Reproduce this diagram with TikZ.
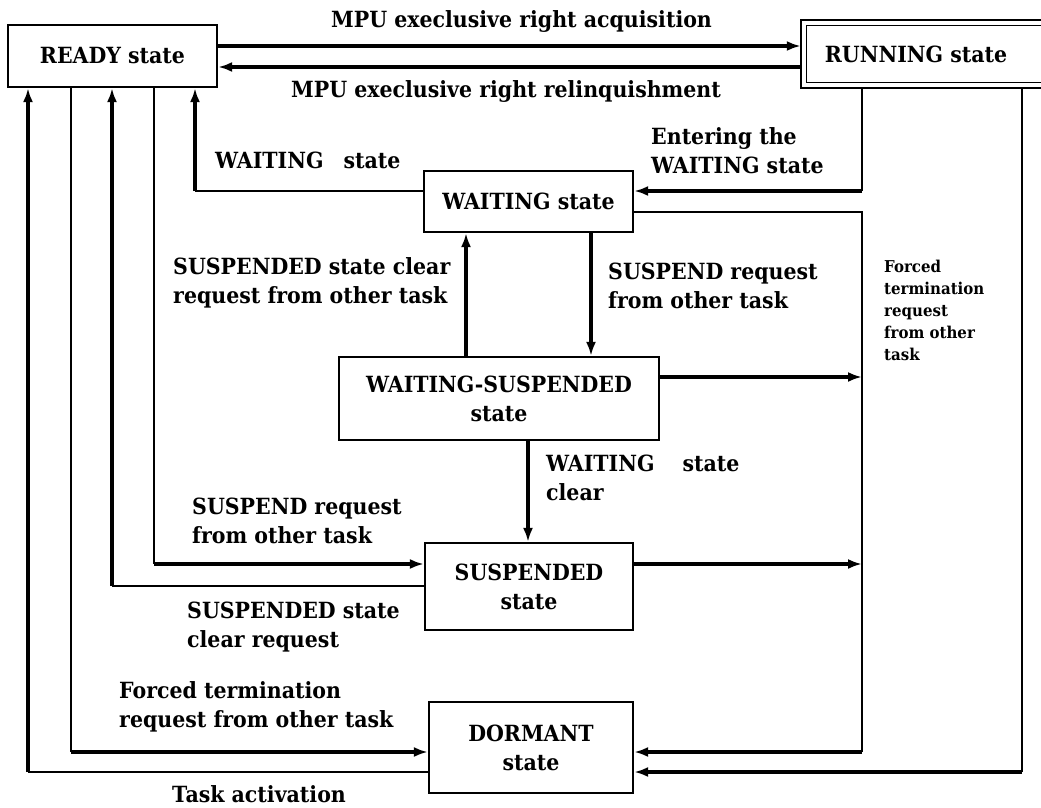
\documentclass[tikz,border=0pt]{standalone}
\usepackage{fontspec}
\setmainfont{DejaVu Serif}[FakeStretch=0.92]
\usetikzlibrary{arrows.meta}
\begin{document}
\begin{tikzpicture}[x=1pt,y=-1pt,
  box/.style={draw, line width=2.2pt, align=center, font=\fontsize{22.3}{29}\selectfont\bfseries, inner sep=0pt},
  lab/.style={anchor=base west, align=left, inner sep=0pt, font=\fontsize{22.3}{28.5}\selectfont\bfseries},
  small/.style={anchor=base west, align=left, inner sep=0pt, font=\fontsize{16.3}{22}\selectfont\bfseries},
  thinln/.style={line width=1.6pt},
  arr/.style={line width=3.2pt, -{Latex[length=14pt,width=10pt]}},
]
\useasboundingbox (0,0) rectangle (1041,808);
\fill[white] (0,0) rectangle (1041,808);

% boxes
\node[box, minimum width=209pt, minimum height=62pt] (ready) at (112.5,56) {READY state};
\node[minimum width=230pt, minimum height=68pt, inner sep=0pt, font=\fontsize{22.3}{29}\selectfont\bfseries] (running) at (916,54) {RUNNING state};
\draw[line width=2.2pt] (running.north west) rectangle ([xshift=40pt]running.south east);
\draw[line width=1.2pt] ([xshift=6pt,yshift=-6pt]running.north west) rectangle ([xshift=40pt,yshift=6pt]running.south east);
\node[box, minimum width=209pt, minimum height=61pt] (waiting) at (528.5,201.5) {WAITING state};
\node[box, minimum width=320pt, minimum height=83pt] (ws) at (499,398.5) {WAITING-SUSPENDED\\state};
\node[box, minimum width=208pt, minimum height=87pt] (susp) at (529,586.5) {SUSPENDED\\state};
\node[box, minimum width=204pt, minimum height=91pt] (dorm) at (531,747.5) {DORMANT\\state};

% columns and rows
\coordinate (colA) at (28,0);
\coordinate (colB) at (71,0);
\coordinate (colC) at (112,0);
\coordinate (colD) at (154,0);
\coordinate (colE) at (195,0);
\coordinate (colW2) at (466,0);
\coordinate (colW3) at (528,0);
\coordinate (colW1) at (591,0);
\coordinate (colR1) at (862,0);
\coordinate (colR2) at (1022,0);
\coordinate (rTop) at (0,46);
\coordinate (rBot) at (0,67);
\coordinate (waitIn) at (0,191);
\coordinate (wOut) at (0,212);
\coordinate (wsOut) at (0,377);
\coordinate (sIn) at (0,564);
\coordinate (sOut) at (0,586);
\coordinate (dIn1) at (0,752);
\coordinate (dIn2) at (0,772);

% connectors
\draw[arr] (ready.east |- rTop) -- (running.west |- rTop);
\draw[arr] (running.west |- rBot) -- (ready.east |- rBot);

\draw[thinln] (running.south -| colR1) -- (colR1 |- waitIn);
\draw[arr] (colR1 |- waitIn) -- (waiting.east |- waitIn);

\draw[thinln] (waiting.west |- waitIn) -- (colE |- waitIn);
\draw[arr] (colE |- waitIn) -- (ready.south -| colE);

\draw[thinln] (waiting.east |- wOut) -- (colR1 |- wOut) -- (colR1 |- dIn1);
\draw[arr] (colR1 |- dIn1) -- (dorm.east |- dIn1);

\draw[arr] (ws.east |- wsOut) -- (colR1 |- wsOut);
\draw[arr] (susp.east |- sIn) -- (colR1 |- sIn);

\draw[thinln] (running.south -| colR2) -- (colR2 |- dIn2);
\draw[arr] (colR2 |- dIn2) -- (dorm.east |- dIn2);

\draw[arr] (waiting.south -| colW1) -- (ws.north -| colW1);
\draw[arr] (ws.north -| colW2) -- (waiting.south -| colW2);
\draw[arr] (ws.south -| colW3) -- (susp.north -| colW3);

\draw[thinln] (ready.south -| colD) -- (colD |- sIn);
\draw[arr] (colD |- sIn) -- (susp.west |- sIn);

\draw[thinln] (susp.west |- sOut) -- (colC |- sOut);
\draw[arr] (colC |- sOut) -- (ready.south -| colC);

\draw[thinln] (ready.south -| colB) -- (colB |- dIn1);
\draw[arr] (colB |- dIn1) -- (dorm.west |- dIn1);

\draw[thinln] (dorm.west |- dIn2) -- (colA |- dIn2);
\draw[arr] (colA |- dIn2) -- (ready.south -| colA);

% labels (anchor at baseline of last line)
\node[lab] (l1) at (331,28) {MPU execlusive right acquisition};
\node[lab] (l2) at (291,97) {MPU execlusive right relinquishment};
\node[lab] (l3) at (651,173) {Entering the\\WAITING state};
\node[lab] (l4) at (215,168) {WAITING\hspace{20pt}state};
\node[lab] (l5) at (173,303) {SUSPENDED state clear\\request from other task};
\node[lab] (l6) at (608,308) {SUSPEND request\\from other task};
\node[small] (l7) at (884,360) {Forced\\termination\\request\\from other\\task};
\node[lab] (l8) at (546,500) {WAITING\hspace{28pt}state\\clear};
\node[lab] (l9) at (192,543) {SUSPEND request\\from other task};
\node[lab] (l10) at (187,647) {SUSPENDED state\\clear request};
\node[lab] (l11) at (119,727) {Forced termination\\request from other task};
\node[lab] (l12) at (172,802) {Task activation};
\end{tikzpicture}
\end{document}
